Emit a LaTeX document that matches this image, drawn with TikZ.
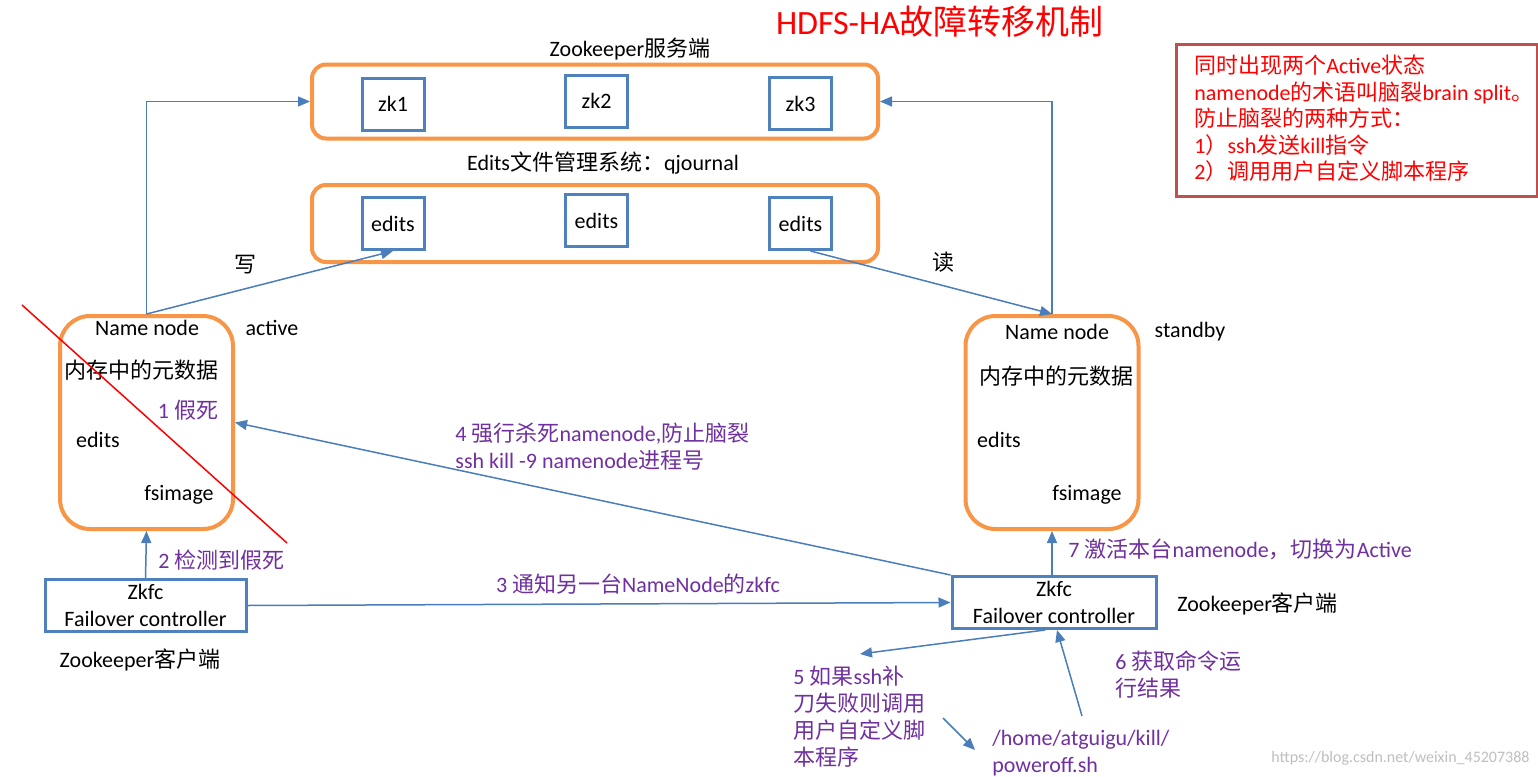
\documentclass[tikz,border=0pt]{standalone}
\usepackage{fontspec}
\setmainfont{Carlito}
\newfontfamily\zhfont{Noto Sans CJK SC}
\newcommand{\zh}[1]{{\zhfont #1}}
\definecolor{haOrange}{RGB}{247,150,70}
\definecolor{haBlue}{RGB}{79,129,189}
\definecolor{haArrow}{RGB}{74,126,187}
\definecolor{haPurple}{RGB}{112,48,160}
\definecolor{haRed}{RGB}{255,0,0}
\definecolor{haNote}{RGB}{192,80,77}
\usetikzlibrary{arrows.meta,positioning}

\begin{document}
\begin{tikzpicture}[
    x=0.5pt, y=-0.5pt,
    every node/.style={font=\fontsize{11}{13.5}\selectfont, inner sep=0pt},
    group/.style={draw=haOrange, line width=2pt, rounded corners=7pt,
                  minimum width=283pt, minimum height=37pt},
    member/.style={draw=haBlue, line width=1.5pt, minimum width=31pt, minimum height=26pt},
    namenode/.style={draw=haOrange, line width=2pt, rounded corners=15pt,
                     minimum width=86.5pt, minimum height=106.5pt},
    zkfc/.style={draw=haBlue, line width=1.5pt, minimum height=26pt, align=center},
    stepnote/.style={text=haPurple, align=left},
    link/.style={draw=haArrow, line width=0.75pt, -{Triangle[length=6pt,width=5pt]}}
  ]
  % page
  \useasboundingbox (0,0) rectangle (1538,777);
  \fill[white] (0,0) rectangle (1538,777);
  \node[text=haRed, font=\fontsize{17}{20}\selectfont] (title) at (940,22) {HDFS-HA\zh{故障转移机制}};

  % zookeeper servers
  \node[group] (zkgroup) at (595,101.5) {};
  \node (zklabel) at (630,49) {Zookeeper\zh{服务端}};
  \node[member] (zk1) at (393,104) {zk1};
  \node[member] (zk2) at (596.5,101) {zk2};
  \node[member] (zk3) at (800.5,103.5) {zk3};

  % qjournal
  \node[group, minimum height=38.5pt] (edgroup) at (595,223.5) {};
  \node (edlabel) at (603,163) {Edits\zh{文件管理系统：}qjournal};
  \node[member] (ed1) at (393,223.5) {edits};
  \node[member] (ed2) at (596.5,220.5) {edits};
  \node[member] (ed3) at (800.5,223.5) {edits};

  % active namenode
  \node[namenode] (nnA) at (146.5,422.5) {};
  \node (nnAtitle) at (147,328) {Name node};
  \node (nnAstate) at (272,328) {active};
  \node (nnAmem) at (141,370) {\zh{内存中的元数据}};
  \node (nnAedits) at (98,440) {edits};
  \node (nnAfs) at (179,495) {fsimage};
  \node[stepnote] (s1) at (188,410) {1 \zh{假死}};
  \draw[haRed, line width=0.75pt] (22,305) -- (287,543);

  % standby namenode
  \node[namenode] (nnS) at (1052,422.5) {};
  \node (nnStitle) at (1057,332) {Name node};
  \node (nnSstate) at (1190,332) {standby};
  \node (nnSmem) at (1056,376) {\zh{内存中的元数据}};
  \node (nnSedits) at (999,440) {edits};
  \node (nnSfs) at (1087,495) {fsimage};

  % failover controllers
  \node[zkfc, minimum width=100.5pt] (zkfcA) at (145.5,605.5) {Zkfc\\Failover controller};
  \node (cliA) at (140,660) {Zookeeper\zh{客户端}};
  \node[zkfc, minimum width=102pt] (zkfcS) at (1054,602.5) {Zkfc\\Failover controller};
  \node[anchor=west] (cliS) at (1177,604) {Zookeeper\zh{客户端}};

  % brain split note
  \node[draw=haNote, line width=1.5pt, minimum width=180.5pt, minimum height=76pt] (note) at (1356.5,120) {};
  \node[text=haRed, align=left, anchor=north west, font=\fontsize{11}{13.25}\selectfont]
    (notetext) at (1194,55) {\zh{同时出现两个}Active\zh{状态}\\namenode\zh{的术语叫脑裂}brain split\zh{。}\\
    \zh{防止脑裂的两种方式：}\\1\zh{）}ssh\zh{发送}kill\zh{指令}\\2\zh{）调用用户自定义脚本程序}};

  % labels
  \node (write) at (245,265) {\zh{写}};
  \node (read) at (943,262) {\zh{读}};
  \node[stepnote, anchor=west] (s2) at (158,560) {2 \zh{检测到假死}};
  \node[stepnote] (s3) at (638,584) {3 \zh{通知另一台}NameNode\zh{的}zkfc};
  \node[stepnote, anchor=west] (s4) at (455,447) {4 \zh{强行杀死}namenode,\zh{防止脑裂}\\ssh kill -9 namenode\zh{进程号}};
  \node[stepnote, anchor=west] (s5) at (793,717) {5 \zh{如果}ssh\zh{补}\\\zh{刀失败则调用}\\\zh{用户自定义脚}\\\zh{本程序}};
  \node[stepnote, anchor=west] (s6) at (1115,675) {6 \zh{获取命令运}\\\zh{行结果}};
  \node[stepnote, anchor=west] (s7) at (1068,549) {7 \zh{激活本台}namenode\zh{，切换为}Active};
  \node[stepnote, anchor=west] (script) at (992,753) {/home/atguigu/kill/\\poweroff.sh};
  \node[text=black!25, anchor=east, font=\fontsize{8}{9}\selectfont] (mark) at (1530,758) {https://blog.csdn.net/weixin\_45207388};

  % free ends
  \coordinate (t5) at (860,654);
  \coordinate (f5) at (943,718);
  \coordinate (t5b) at (975,750);
  \coordinate (f6) at (1082,716);

  % connections
  \draw[link] (nnA.north) |- (zkgroup.west);
  \draw[link] (nnA.north) -- (ed1.south);
  \draw[link] ([xshift=5pt]ed3.south) -- (nnS.north);
  \draw[link] (nnS.north) |- (zkgroup.east);
  \draw[link] (zkfcS.north west) -- (nnA.east);
  \draw[link] (zkfcA.north) -- (nnA.south);
  \draw[link] (zkfcA.east) -- (zkfcS.west);
  \draw[link] (nnS.south |- zkfcS.north) -- (nnS.south);
  \draw[link] ([xshift=-4.5pt]zkfcS.south) -- (t5);
  \draw[link] (f5) -- (t5b);
  \draw[link] (f6) -- ([xshift=1.5pt]zkfcS.south);
\end{tikzpicture}
\end{document}
